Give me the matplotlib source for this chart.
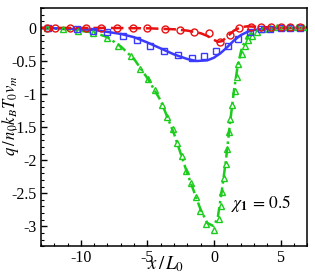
import matplotlib
matplotlib.use("Agg")
import matplotlib.pyplot as plt
from matplotlib.ticker import MultipleLocator, FormatStrFormatter

plt.rcParams['font.family'] = ['Liberation Serif', 'DejaVu Serif']
plt.rcParams['mathtext.fontset'] = 'stix'
plt.rcParams['axes.unicode_minus'] = False

# Theory lines
red_line_x = [-13, -8, -5, -3, -2, -1, -0.5, 0, 0.3, 0.6, 1, 1.5, 2, 2.5, 3, 4, 5, 7]
red_line_q = [0, 0, -0.005, -0.02, -0.04, -0.08, -0.12, -0.18, -0.21, -0.2, -0.13, -0.04, 0.01, 0.025, 0.02, 0.01, 0, 0]

blue_line_x = [-13, -11, -9, -7, -6, -5, -4, -3, -2, -1.3, -0.5, 0, 0.5, 1, 1.5, 2, 2.5, 3, 4, 5, 7]
blue_line_q = [0, -0.01, -0.03, -0.09, -0.14, -0.22, -0.31, -0.40, -0.47, -0.5, -0.49, -0.45, -0.38, -0.29, -0.19, -0.11, -0.06, -0.03, -0.01, 0, 0]

green_line_x = [-13, -11, -9, -8, -7, -6, -5, -4, -3, -2, -1, -0.5, 0, 0.3, 0.6, 0.9, 1.2, 1.5, 1.8, 2.1, 2.5, 3, 4, 5, 7]
green_line_q = [0, -0.02, -0.07, -0.14, -0.28, -0.47, -0.76, -1.1, -1.6, -2.2, -2.75, -2.95, -3.0, -2.85, -2.45, -2.0, -1.45, -0.95, -0.55, -0.3, -0.13, -0.05, -0.01, 0, 0]

# Simulation markers
red_pts_x = [-12.55, -11.95, -10.8, -9.6, -8.5, -7.3, -6.1, -5.0, -3.7, -2.55, -1.5, -0.37, 0.46, 1.2, 1.9, 2.8, 3.5, 4.3, 5.0, 5.7, 6.5]
red_pts_q = [0, 0, 0, 0, 0, 0, 0, 0, -0.01, -0.03, -0.06, -0.08, -0.21, -0.1, 0.0, 0.02, 0.02, 0.02, 0.02, 0.02, 0.02]

blue_pts_x = [-12.5, -10.3, -9.1, -8.0, -6.8, -5.8, -4.8, -3.75, -2.7, -1.65, -0.74, 0.16, 1.06, 1.8, 2.7, 3.5, 4.2, 5.0, 5.7, 6.5]
blue_pts_q = [0, -0.015, -0.045, -0.06, -0.12, -0.18, -0.27, -0.35, -0.41, -0.45, -0.42, -0.35, -0.27, -0.17, -0.06, -0.02, -0.01, 0, 0, 0]

green_pts_x = [-12.55, -11.35, -10.2, -9.1, -8.0, -7.2, -6.2, -5.55, -4.95, -4.4, -3.9, -3.5, -3.1, -2.8, -2.4, -2.1, -1.72, -1.35, -1.05, -0.6, 0.0,
               0.38, 0.53, 0.6, 0.76, 0.9, 0.98, 1.14, 1.2, 1.36, 1.59, 1.74, 1.8, 2.1, 2.35, 2.55, 2.85, 3.25, 3.7, 4.2, 4.75, 5.2, 5.7, 6.25, 6.7]
green_pts_q = [0, -0.015, -0.045, -0.076, -0.15, -0.27, -0.42, -0.62, -0.77, -0.94, -1.17, -1.35, -1.53, -1.74, -1.94, -2.17, -2.35, -2.56, -2.77, -2.97, -3.06,
               -2.89, -2.7, -2.48, -2.27, -2.06, -1.83, -1.58, -1.38, -1.17, -0.96, -0.74, -0.55, -0.39, -0.27, -0.18, -0.12, -0.06, -0.02, 0, 0.01, 0.01, 0.01, 0.01, 0.01]

RED = '#e81010'
BLUE = '#3a3aff'
GREEN = '#1ccc1c'

fig = plt.figure(figsize=(3.15, 2.8), dpi=100)
ax = fig.add_axes([0.130, 0.121, 0.845, 0.850])

ax.plot(green_line_x, green_line_q, color=GREEN, lw=1.8, ls=(0, (4, 1.5, 1, 1.5)), zorder=2)
ax.plot(blue_line_x, blue_line_q, color=BLUE, lw=1.8, ls='-', zorder=2)
ax.plot(red_line_x, red_line_q, color=RED, lw=1.8, ls=(0, (5, 2)), zorder=2)

ax.plot(green_pts_x, green_pts_q, ls='none', marker='^', ms=5, mfc='none', mec=GREEN, mew=1.0, zorder=3)
ax.plot(blue_pts_x, blue_pts_q, ls='none', marker='s', ms=4.5, mfc='none', mec=BLUE, mew=1.0, zorder=3)
ax.plot(red_pts_x, red_pts_q, ls='none', marker='o', ms=5, mfc='none', mec=RED, mew=1.0, zorder=3)

ax.set_xlim(-13, 7)
ax.set_ylim(-3.3, 0.3)
ax.xaxis.set_major_locator(MultipleLocator(5))
ax.xaxis.set_minor_locator(MultipleLocator(1))
ax.yaxis.set_major_locator(MultipleLocator(0.5))
ax.yaxis.set_minor_locator(MultipleLocator(0.1))
ax.yaxis.set_major_formatter(FormatStrFormatter('%g'))
ax.xaxis.set_major_formatter(FormatStrFormatter('%g'))
ax.tick_params(which='both', direction='in', top=False, right=False, labelsize=11.5, pad=3)
ax.tick_params(which='major', length=4, width=1.0)
ax.tick_params(which='minor', length=2.2, width=0.8)
for s in ax.spines.values():
    s.set_linewidth(1.1)

ax.set_xlabel(r'$x\,/\,L_0$', fontsize=13.5)
ax.xaxis.set_label_coords(0.47, -0.035, transform=ax.transAxes)
ax.xaxis.label.set_va('top')
ax.set_ylabel(r'$q\,/\,n_0 k_B T_0 v_m$', fontsize=12)
ax.yaxis.set_label_coords(-0.075, 0.55)
ax.text(1.3, -2.72, r'$\chi_\mathbf{1}\,=\,0.5$', fontsize=12.5)

fig.savefig('out.png', dpi=100)
